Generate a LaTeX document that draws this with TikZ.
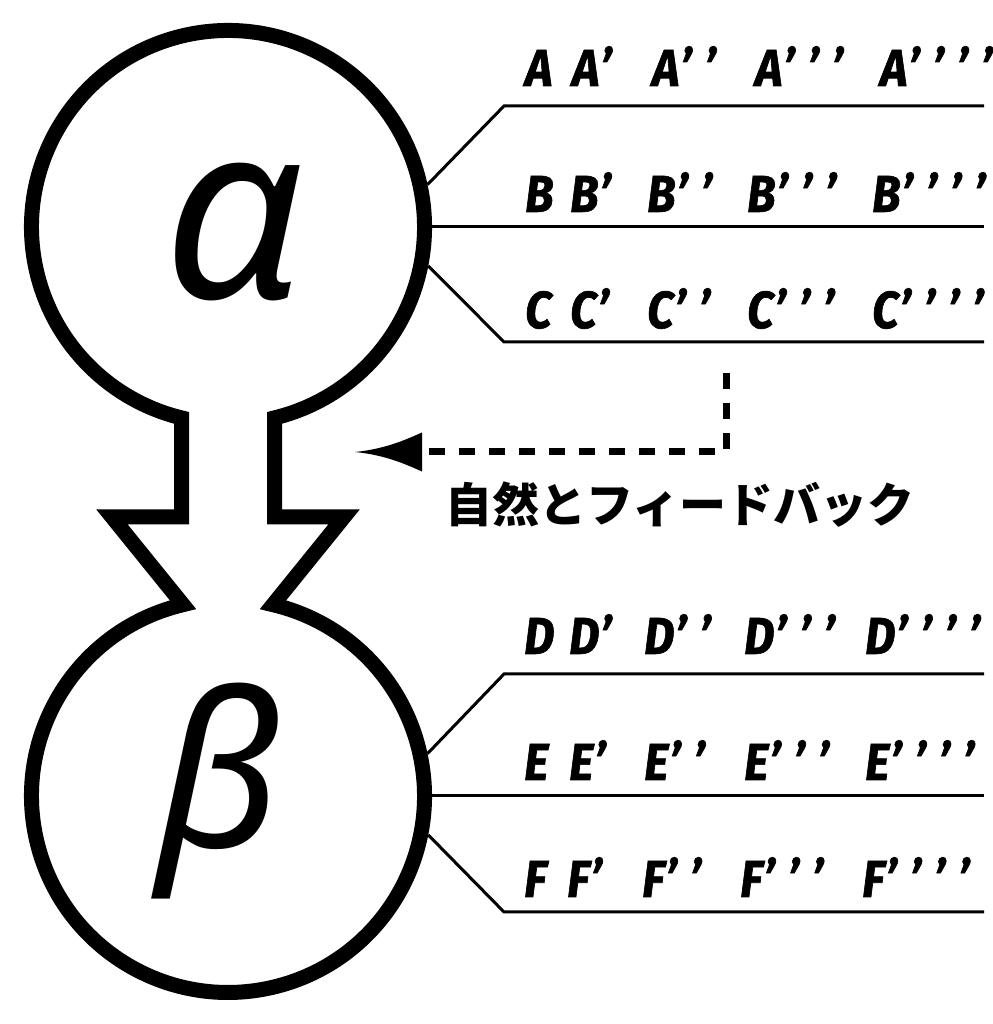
\documentclass[tikz,border=0pt]{standalone}
\usepackage{fontspec}
\newfontfamily\labfont[FakeStretch=0.9, BoldItalicFeatures={FakeBold=1.2}]{Fira Sans}
\newfontfamily\greekfont{Noto Sans}
\newfontfamily\cjkfont{Noto Sans CJK JP}
\newcommand\pq{\hspace{13pt}’}
\newcommand\labrow[8]{%
  \node[lbl] (#1-0) at (#4,#3) {#2};
  \node[lbl] (#1-1) at (#5,#3) {#2\hspace{1pt}’};
  \node[lbl] (#1-2) at (#6,#3) {#2\hspace{1pt}’\pq};
  \node[lbl] (#1-3) at (#7,#3) {#2\hspace{1pt}’\pq\pq};
  \node[lbl] (#1-4) at (#8,#3) {#2\hspace{1pt}’\pq\pq\pq};
}
\begin{document}
\begin{tikzpicture}[x=1pt,y=1pt,
  outline/.style={line width=15pt, line join=miter, miter limit=10},
  conn/.style={line width=3pt},
  lbl/.style={anchor=base west, inner sep=0pt, font=\labfont\bfseries\itshape\fontsize{52pt}{52pt}\selectfont},
  greek/.style={circle, minimum size=408pt, inner sep=0pt, outer sep=0pt},
  fb/.style={line width=7pt, dash pattern=on 16pt off 14pt},
]
\fill[white] (0,0) rectangle (992,1024);
\useasboundingbox (0,0) rectangle (992,1024);

% circles as named nodes (outer border)
\node[greek] (alpha) at (228,797) {};
\node[greek] (beta) at (228,228) {};
\node[font=\greekfont\itshape\fontsize{248pt}{248pt}\selectfont, inner sep=0pt] (alphatxt) at (234,792) {α};
\node[font=\greekfont\itshape\fontsize{215pt}{215pt}\selectfont, inner sep=0pt] (betatxt) at (218,233) {β};

% outline of both circles with neck and zigzag
\draw[outline] (181.5,507) -- (112,507) -- (183,419.3)
  arc[start angle=103.24, end angle=436.76, radius=196.5pt]
  -- (344,507) -- (274.5,507) -- (274.5,606.1)
  arc[start angle=-76.31, end angle=256.31, radius=196.5pt]
  -- cycle;

% connector corners and ends
\coordinate (cA) at (504,918);
\coordinate (eA) at (984,918);
\coordinate (eB) at (984,797);
\coordinate (cC) at (504,682);
\coordinate (eC) at (984,682);
\coordinate (cD) at (504,350);
\coordinate (eD) at (984,350);
\coordinate (eE) at (984,228);
\coordinate (cF) at (504,112);
\coordinate (eF) at (984,112);

\draw[conn] (alpha.12.6) -- (cA) -- (eA);
\draw[conn] (alpha.east) -- (eB);
\draw[conn] (alpha.-11.2) -- (cC) -- (eC);
\draw[conn] (beta.12.6) -- (cD) -- (eD);
\draw[conn] (beta.east) -- (eE);
\draw[conn] (beta.-11.2) -- (cF) -- (eF);

% labels
\labrow{A}{A}{938}{525}{572}{652}{755}{880}
\labrow{B}{B}{812}{525}{570}{647}{747}{872}
\labrow{C}{C}{696}{525}{570}{647}{747}{872}
\labrow{D}{D}{370}{524}{569}{644}{744}{865}
\labrow{E}{E}{244}{524}{569}{644}{744}{865}
\labrow{F}{F}{127}{524}{567}{642}{740}{862}

% feedback arrow
\coordinate (fbtop) at (726,651);
\coordinate (fbcorner) at (726,572);
\coordinate (fbend) at (422,572);
\coordinate (fbtip) at (355,572);
\draw[fb] (fbtop) -- (fbcorner) -- (fbend);
\fill (fbtip) .. controls (385,575) and (405,584) .. (422,591.5) -- (422,552.5) .. controls (405,560) and (385,569) .. (fbtip) -- cycle;
\node[font=\cjkfont\bfseries\fontsize{47pt}{47pt}\selectfont, inner sep=0pt] (fbtext) at (680,519) {自然とフィードバック};
\end{tikzpicture}
\end{document}
